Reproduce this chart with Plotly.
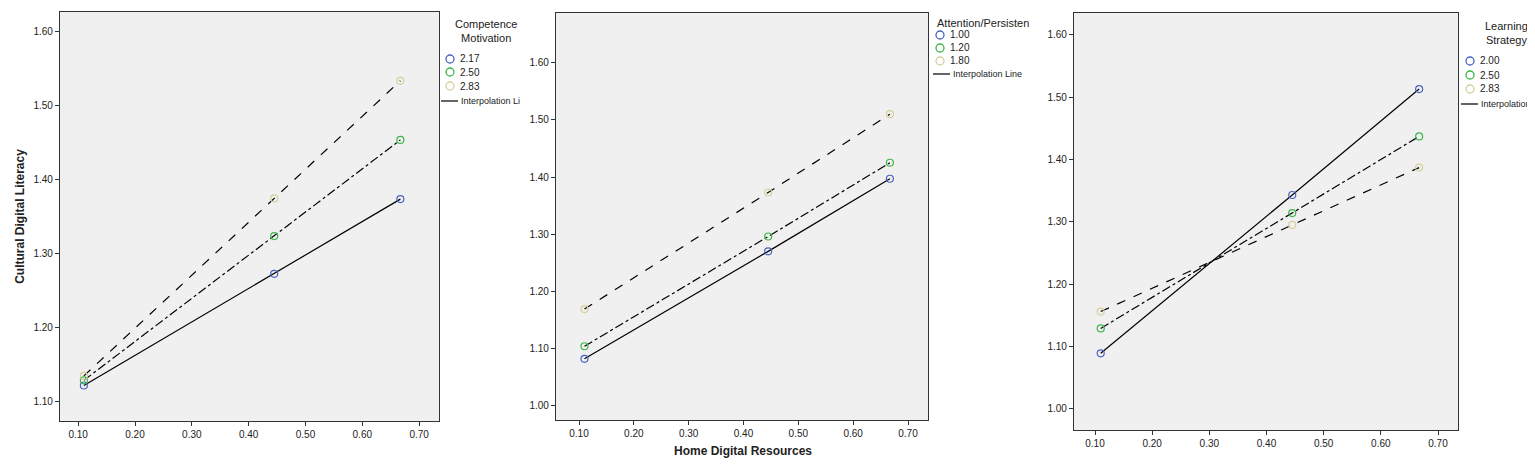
import plotly.graph_objects as go

x_vals = [0.11, 0.445, 0.667]
p1_names = ["2.17", "2.50", "2.83"]
p1_vals = [[1.122, 1.273, 1.374], [1.129, 1.324, 1.454], [1.135, 1.375, 1.534]]
p2_names = ["1.00", "1.20", "1.80"]
p2_vals = [[1.082, 1.270, 1.397], [1.104, 1.296, 1.425], [1.169, 1.373, 1.510]]
p3_names = ["2.00", "2.50", "2.83"]
p3_vals = [[1.089, 1.343, 1.513], [1.129, 1.314, 1.437], [1.156, 1.295, 1.387]]
titles = ["Competence<br>Motivation", "Attention/Persisten", "Learning<br>Strategy"]
interp_labels = ["Interpolation Li", "Interpolation Line", "Interpolation l"]

colors = ["#4a63c0", "#3cb64a", "#d6cf9c"]
dashes = ["solid", "dashdot", "dash"]
W, H = 1535, 466
boxes = [((52, 431), (4, 413), (1.074, 1.627)),
         ((548, 920), (5, 412), (0.975, 1.687)),
         ((1066, 1450), (5, 422), (0.966, 1.635))]
xr = [[0.068, 0.735], [0.1 - 23 / 548.3, 0.7 + 20 / 548.3], [0.1 - 21 / 571.7, 0.7 + 20 / 571.7]]
# legend geometry: (title center x, title y, circle x, line x0, item ys, interp y)
leg = [(478, 23, 442, 433, [51, 64, 78], 93),
       (975, 15, 932, 925, [27, 40, 53], 66),
       (1498, 25, 1462, 1453, [53, 67, 81], 96)]

fig = go.Figure()
panels = [(p1_names, p1_vals), (p2_names, p2_vals), (p3_names, p3_vals)]
for i, (names, vals) in enumerate(panels):
    ax = "" if i == 0 else str(i + 1)
    for j, (n, v) in enumerate(zip(names, vals)):
        fig.add_trace(go.Scatter(x=x_vals, y=v, mode="lines", line=dict(color="black", width=1.2, dash=dashes[j]),
                                 showlegend=False, xaxis="x" + ax, yaxis="y" + ax, hoverinfo="skip"))
    for j, (n, v) in enumerate(zip(names, vals)):
        fig.add_trace(go.Scatter(x=x_vals, y=v, mode="markers", name=n, showlegend=False,
                                 marker=dict(symbol="circle-open", size=7, color=colors[j], line=dict(width=1.2)),
                                 xaxis="x" + ax, yaxis="y" + ax))

layout = dict(width=W, height=H, margin=dict(l=0, r=0, t=0, b=0), paper_bgcolor="white", showlegend=False,
              plot_bgcolor="#f0f0f0", font=dict(family="Arial, Liberation Sans", size=10, color="#222"))
for i, ((x0, x1), (y0, y1), yr) in enumerate(boxes):
    ax = "" if i == 0 else str(i + 1)
    axcommon = dict(showline=True, linecolor="#333", linewidth=1.2, mirror=True, ticks="outside",
                    ticklen=4, tickcolor="#333", showgrid=False, zeroline=False, tickformat=".2f",
                    automargin=False)
    layout["xaxis" + ax] = dict(axcommon, domain=[x0 / W, x1 / W], range=xr[i], dtick=0.1, tick0=0.1,
                                anchor="y" + ax)
    layout["yaxis" + ax] = dict(axcommon, domain=[1 - y1 / H, 1 - y0 / H], range=list(yr), dtick=0.1, tick0=1.0,
                                anchor="x" + ax)
layout["yaxis"]["title"] = dict(text="<b>Cultural Digital Literacy</b>", font=dict(size=12), standoff=6)
fig.update_layout(**layout)

shapes = []
for i, (tcx, ty, cx, lx0, ys, iy) in enumerate(leg):
    names = panels[i][0]
    fig.add_annotation(text=titles[i], x=tcx / W, y=1 - ty / H, xref="paper", yref="paper", showarrow=False,
                       font=dict(size=11), align="center", xanchor="center", yanchor="middle")
    for j, n in enumerate(names):
        yy = ys[j]
        fig.add_shape(type="circle", xref="paper", yref="paper", x0=(cx - 4) / W, x1=(cx + 4) / W,
                      y0=1 - (yy + 4) / H, y1=1 - (yy - 4) / H, line=dict(color=colors[j], width=1.3))
        fig.add_annotation(text=n, x=(cx + 8) / W, y=1 - yy / H, xref="paper", yref="paper", showarrow=False,
                           xanchor="left", yanchor="middle", font=dict(size=10))
    fig.add_shape(type="line", xref="paper", yref="paper", x0=lx0 / W, x1=(lx0 + 17) / W,
                  y0=1 - iy / H, y1=1 - iy / H, line=dict(color="#333", width=1.5))
    fig.add_annotation(text=interp_labels[i], x=(lx0 + 18) / W, y=1 - iy / H, xref="paper", yref="paper",
                       showarrow=False, xanchor="left", yanchor="middle", font=dict(size=9))

fig.add_annotation(text="<b>Home Digital Resources</b>", x=735 / W, y=1 - 452 / H, xref="paper", yref="paper",
                   showarrow=False, font=dict(size=12))
fig.write_html("out.html")
